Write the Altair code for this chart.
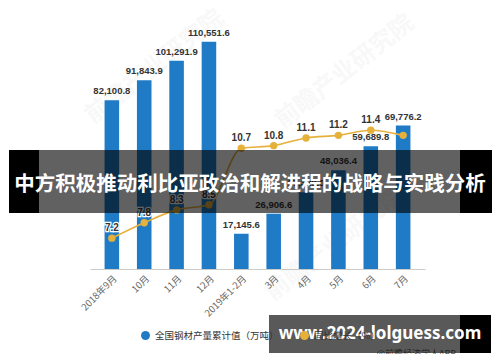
import altair as alt
import pandas as pd

months = ["2018年9月", "10月", "11月", "12月", "2019年1-2月", "3月", "4月", "5月", "6月", "7月"]
output = [82100.8, 91843.9, 101291.9, 110551.6, 17145.6, 26906.6, 37320.0, 48036.4, 59689.8, 69776.2]
yoy = [7.2, 7.8, 8.3, 8.5, 10.7, 10.8, 11.1, 11.2, 11.4, 11.2]
legend_names = ["全国钢材产量累计值（万吨）", "同比增长（%）"]
left_ticks = [0, 25000, 50000, 75000, 100000, 125000]
right_ticks = [6, 8, 10, 12, 14, 16]
title_text = "中方积极推动利比亚政治和解进程的战略与实践分析"
site_text = "www.2024-lolguess.com"
source_text = "@前瞻经济学人APP"
watermark_text = "前瞻产业研究院"

df = pd.DataFrame({"month": months, "output": output, "yoy": yoy})
dummy = pd.DataFrame({"a": [0]})

FONT = "Liberation Sans, Noto Sans CJK SC, sans-serif"
CJK = "Noto Sans CJK SC"
BLUE = "#1f7bc6"
GOLD = "#e5b13b"

x = alt.X(
    "month:N", sort=months, title=None,
    scale=alt.Scale(paddingInner=0.55, paddingOuter=0.45),
    axis=alt.Axis(labelAngle=-45, ticks=False, domain=True, domainColor="#cccccc",
                  labelPadding=4, labelFontSize=9.5, labelColor="#666666", grid=False,
                  labelFont=CJK),
)

color = alt.Color(
    "series:N",
    scale=alt.Scale(domain=legend_names, range=[BLUE, GOLD]),
    legend=alt.Legend(orient="none", legendX=50, legendY=318, direction="horizontal",
                      title=None, symbolType="circle", symbolSize=80, labelFontSize=9.5,
                      labelColor="#333333", labelFont=CJK, padding=0, columnPadding=20,
                      labelLimit=200),
)

y_left = alt.Y(
    "output:Q",
    scale=alt.Scale(domain=[0, 125000], nice=False),
    axis=alt.Axis(values=left_ticks,
                  labelExpr="datum.value == 0 ? '0' : (datum.value / 10000) + '万'",
                  title="单位：万吨", titleFont=CJK, titleFontSize=9, titleColor="#888888",
                  titleFontWeight="normal", titlePadding=8,
                  labelFontSize=10, labelColor="#666666", labelFont=CJK,
                  ticks=False, domain=False, labelPadding=5,
                  grid=True, gridColor="#e3e3e3"),
)

y_right = alt.Y(
    "yoy:Q",
    scale=alt.Scale(domain=[6, 16], nice=False),
    axis=alt.Axis(orient="right", values=right_ticks, grid=False,
                  title="同比：%", titleFont=CJK, titleFontSize=9, titleColor="#888888",
                  titleFontWeight="normal", titlePadding=8,
                  labelFontSize=10, labelColor="#666666",
                  ticks=False, domain=False, labelPadding=5),
)

base = alt.Chart(df)

bars = base.mark_bar(color=BLUE).transform_calculate(
    series=f"'{legend_names[0]}'"
).encode(x=x, y=y_left, color=color)

bar_labels = base.mark_text(baseline="bottom", dy=-4, fontSize=9.5, fontWeight="bold",
                            color="#333333", font=FONT).encode(
    x=x, y=alt.Y("output:Q", axis=None), text=alt.Text("output:Q", format=",.1f"))

left = alt.layer(bars, bar_labels)

line = base.mark_line(color=GOLD, strokeWidth=1.6, interpolate="monotone").encode(x=x, y=y_right)
points = base.mark_point(filled=True, size=55, opacity=1).transform_calculate(
    series=f"'{legend_names[1]}'"
).encode(x=x, y=alt.Y("yoy:Q", axis=None), color=color)

lab_base = base.transform_filter(alt.datum.month != months[-1])
halo = lab_base.mark_text(baseline="bottom", dy=-5, fontSize=10, fontWeight="bold",
                          stroke="white", strokeWidth=2.5, color="white", font=FONT).encode(
    x=x, y=alt.Y("yoy:Q", axis=None), text=alt.Text("yoy:Q", format=".1f"))
line_labels = lab_base.mark_text(baseline="bottom", dy=-5, fontSize=10, fontWeight="bold",
                                 color="#333333", font=FONT).encode(
    x=x, y=alt.Y("yoy:Q", axis=None), text=alt.Text("yoy:Q", format=".1f"))

right = alt.layer(line, points, halo, line_labels)

d = alt.Chart(dummy)
wm = [
    d.mark_text(text=watermark_text, angle=322, fontSize=24, fontWeight="bold", color="#000000",
                opacity=0.025, font=CJK).encode(x=alt.value(px), y=alt.value(py))
    for px, py in [(65, 55), (255, 60), (245, 232)]
]

banner = d.mark_rect(color="black", opacity=0.62).encode(
    x=alt.value(-51), x2=alt.value(370), y=alt.value(138), y2=alt.value(201))
banner_l = d.mark_rect(color="black").encode(
    x=alt.value(-81), x2=alt.value(-51), y=alt.value(138), y2=alt.value(201))
banner_r = d.mark_rect(color="black").encode(
    x=alt.value(370), x2=alt.value(402), y=alt.value(138), y2=alt.value(201))
title = d.mark_text(text=title_text, fontSize=20.5, fontWeight="bold", color="white",
                    font=CJK, align="center", baseline="middle").encode(
    x=alt.value(160), y=alt.value(173))

source = d.mark_text(text=source_text, fontSize=9, color="#666666", font=CJK,
                     align="right", baseline="middle").encode(
    x=alt.value(366), y=alt.value(342))

site_bg = d.mark_rect(color="black", opacity=0.65).encode(
    x=alt.value(179), x2=alt.value(370), y=alt.value(303), y2=alt.value(341))
site_r = d.mark_rect(color="black").encode(
    x=alt.value(370), x2=alt.value(401), y=alt.value(303), y2=alt.value(341))
site = d.mark_text(text=site_text, fontSize=17, fontWeight="bold", color="white",
                   font="Noto Sans", align="center", baseline="middle").encode(
    x=alt.value(290), y=alt.value(322))

chart = alt.layer(
    alt.layer(*wm),
    alt.layer(left, right).resolve_scale(y="independent"),
    source, banner, banner_l, banner_r, title, site_bg, site_r, site,
).properties(
    width=335, height=257,
    autosize=alt.AutoSizeParams(type="none"),
    padding={"left": 82, "top": 4, "right": 67, "bottom": 85},
    background="white",
).configure_view(stroke=None)

chart.save("out.html", embed_options={"renderer": "svg", "actions": False})
